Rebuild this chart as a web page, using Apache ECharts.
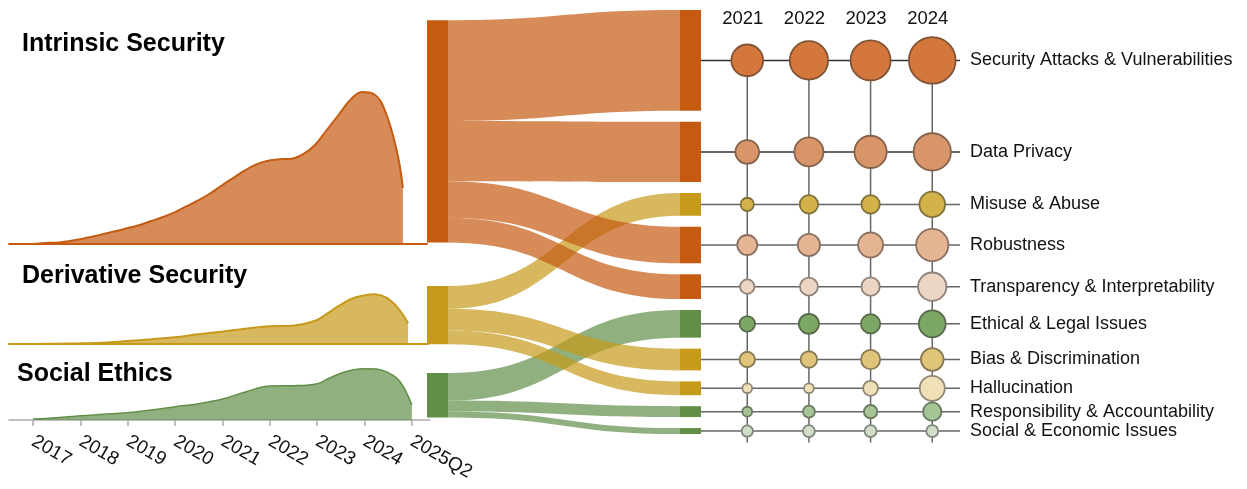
<!DOCTYPE html>
<html>
<head>
<meta charset="utf-8">
<script src="https://cdn.jsdelivr.net/npm/echarts@6/dist/echarts.min.js"></script>
<style>
  html, body { margin: 0; padding: 0; background: #fff; }
  #main { width: 1247px; height: 489px; }
</style>
</head>
<body>
<div id="main"></div>
<script>
// 三个大类
const groupNames = ['Intrinsic Security', 'Derivative Security', 'Social Ethics'];
const groupColors = ['#C55A11', '#C69A1A', '#628F48'];

// 左侧密度曲线（按年份读取）
const intrinsicYears = [2017, 2017.25, 2017.5, 2017.75, 2018, 2018.25, 2018.5, 2018.75, 2019, 2019.25, 2019.5, 2019.75,
    2020, 2020.25, 2020.5, 2020.75, 2021, 2021.25, 2021.5, 2021.75, 2022, 2022.25, 2022.5, 2022.75,
    2023, 2023.25, 2023.5, 2023.75, 2024, 2024.25, 2024.5, 2024.75, 2024.87];
const intrinsicDensity = [0, 1, 1.3, 2.7, 4.7, 7.3, 10, 12.7, 15.7, 18.7, 22.7, 26.7,
    31.3, 37.3, 43.3, 50, 58, 65.7, 73.3, 79.7, 83.3, 84.7, 85.3, 90,
    99, 114, 129, 144, 152, 150, 132, 91, 56];

const derivativeYears = [2017, 2017.5, 2018, 2018.5, 2019, 2019.5, 2020, 2020.5, 2021, 2021.5, 2022, 2022.5,
    2023, 2023.25, 2023.5, 2023.75, 2024, 2024.25, 2024.5, 2024.75, 2024.96];
const derivativeDensity = [0, 0.3, 0.7, 1.3, 3, 4.7, 6.7, 9.7, 12.3, 15.3, 17.7, 18.3,
    23.5, 30.7, 38.3, 45, 48.3, 49.7, 46.3, 35.7, 20.7];

const socialYears = [2017, 2017.5, 2018, 2018.5, 2019, 2019.5, 2020, 2020.5, 2021, 2021.5, 2022, 2022.5,
    2023, 2023.25, 2023.5, 2023.75, 2024, 2024.25, 2024.5, 2024.75, 2025];
const socialDensity = [1, 2.3, 4.3, 5.7, 7.3, 10, 13.3, 16.3, 21, 28.3, 34, 34.3,
    36.3, 41.7, 46.7, 50, 51.3, 51, 47.3, 38.3, 15];

// 横轴刻度
const axisYears = [2017, 2018, 2019, 2020, 2021, 2022, 2023, 2024, 2025];
const axisLabels = ['2017', '2018', '2019', '2020', '2021', '2022', '2023', '2024', '2025Q2'];

// 子类（桑基图右侧，从上到下）
const topicNames = ['Security Attacks & Vulnerabilities', 'Data Privacy', 'Misuse & Abuse', 'Robustness',
    'Transparency & Interpretability', 'Ethical & Legal Issues', 'Bias & Discrimination', 'Hallucination',
    'Responsibility & Accountability', 'Social & Economic Issues'];
const topicGroup = [0, 0, 1, 0, 0, 2, 1, 1, 2, 2];
const topicCounts = [102, 61, 23, 37, 25, 28, 22, 14, 11, 6];
const topicColors = ['#D4773C', '#D9956A', '#D4B24A', '#E5B493', '#EDD5C3',
    '#7DA765', '#E0C479', '#EFE0B8', '#A6C496', '#D0DDC8'];

// 气泡图：每个子类 2021-2024
const bubbleYears = [2021, 2022, 2023, 2024];
const bubbleCounts = [
    [63, 92, 100, 136],
    [35, 53, 65, 87],
    [11, 21, 21, 41],
    [25, 31, 39, 65],
    [13, 20, 21, 50],
    [15, 25, 23, 45],
    [15, 17, 23, 32],
    [6, 6, 14, 39],
    [6, 9, 11, 21],
    [8, 9, 9, 9]
];

const FONT = '"Liberation Sans", Arial, Helvetica, sans-serif';

// 颜色加深（用于气泡描边）
function darken(hex, t) {
    const n = parseInt(hex.slice(1), 16);
    const r = (n >> 16) & 255, g = (n >> 8) & 255, b = n & 255;
    const m = c => Math.round(c * (1 - t) + 46 * t);
    return `rgb(${m(r)},${m(g)},${m(b)})`;
}

// 桑基图布局参数
const sankeyTop = 10;
const sankeyHeight = 424;
const nodeGap = 11;
const sourceLocalY = [0.024, 0.651, 0.856];

// 计算右侧节点中心，作为气泡行位置
const total = topicCounts.reduce((a, b) => a + b, 0);
const ky = (sankeyHeight - (topicCounts.length - 1) * nodeGap) / total;
const gapValue = nodeGap / ky;
const yMax = sankeyHeight / ky;
const rowCenters = [];
let acc = 0;
topicCounts.forEach((v, i) => {
    rowCenters.push(acc + v / 2);
    acc += v + gapValue;
});

const bubbleXMin = 2020.25;
const bubbleXMax = 2024.45;

const ridgeXMin = 2016.489;
const ridgeXMax = 2025.383;

function pairs(xs, ys) {
    return xs.map((x, i) => [x, ys[i]]);
}

const chart = echarts.init(document.getElementById('main'));

const ridgeData = [
    pairs(intrinsicYears, intrinsicDensity),
    pairs(derivativeYears, derivativeDensity),
    pairs(socialYears, socialDensity)
];
const ridgeGrids = [
    { left: 9, width: 418, top: 84, height: 160, max: 160 },
    { left: 9, width: 419, top: 284, height: 60, max: 60 },
    { left: 9, width: 421, top: 360, height: 60, max: 60 }
];

const grids = ridgeGrids.map(g => ({ left: g.left, width: g.width, top: g.top, height: g.height }));
grids.push({ left: 701, width: 259, top: sankeyTop, height: sankeyHeight });

const xAxes = ridgeGrids.map((g, i) => ({
    type: 'value',
    gridIndex: i,
    min: ridgeXMin,
    max: ridgeXMax,
    axisLine: { lineStyle: { color: i === 2 ? '#aaa' : groupColors[i], width: i === 2 ? 1.5 : 2 } },
    axisTick: i === 2
        ? { show: true, customValues: axisYears, length: 6, lineStyle: { color: '#aaa', width: 1.5 } }
        : { show: false },
    axisLabel: i === 2 ? {
        show: true,
        customValues: axisYears,
        formatter: v => axisLabels[axisYears.indexOf(v)],
        rotate: -30,
        margin: 20,
        fontSize: 19,
        color: '#111',
        fontFamily: FONT
    } : { show: false },
    splitLine: { show: false }
}));
xAxes.push({
    type: 'value',
    gridIndex: 3,
    position: 'top',
    min: bubbleXMin,
    max: bubbleXMax,
    axisLine: { show: false },
    axisTick: { show: false },
    splitLine: { show: false },
    axisLabel: {
        inside: true,
        customValues: bubbleYears,
        formatter: v => String(v),
        margin: -1,
        padding: [0, 9, 0, 0],
        fontSize: 18.5,
        color: '#111',
        fontFamily: FONT
    }
});

const yAxes = ridgeGrids.map((g, i) => ({
    type: 'value', gridIndex: i, min: 0, max: g.max, show: false
}));
yAxes.push({
    type: 'value',
    gridIndex: 3,
    position: 'right',
    inverse: true,
    min: 0,
    max: yMax,
    axisLine: { show: false },
    axisTick: { show: false },
    splitLine: { show: false },
    axisLabel: {
        customValues: rowCenters,
        formatter: v => {
            let best = 0;
            rowCenters.forEach((c, i) => { if (Math.abs(c - v) < Math.abs(rowCenters[best] - v)) best = i; });
            return topicNames[best];
        },
        margin: 10,
        fontSize: 18,
        color: '#111',
        fontFamily: FONT
    }
});

const series = [];

// 密度面积
ridgeData.forEach((d, i) => {
    series.push({
        type: 'line',
        xAxisIndex: i,
        yAxisIndex: i,
        data: d,
        smooth: 0.4,
        symbol: 'none',
        silent: true,
        lineStyle: { color: groupColors[i], width: i === 2 ? 1.5 : 2 },
        areaStyle: { color: groupColors[i], opacity: 0.7 }
    });
});

// 桑基图
const nodes = groupNames.map((name, i) => ({
    name: name,
    localY: sourceLocalY[i],
    itemStyle: { color: groupColors[i] }
})).concat(topicNames.map((name, i) => ({
    name: name,
    itemStyle: { color: groupColors[topicGroup[i]] }
})));
const links = topicNames.map((name, i) => ({
    source: groupNames[topicGroup[i]],
    target: name,
    value: topicCounts[i]
}));
series.push({
    type: 'sankey',
    left: 427,
    top: sankeyTop,
    width: 274,
    height: sankeyHeight,
    nodeWidth: 21,
    nodeGap: nodeGap,
    layoutIterations: 0,
    draggable: false,
    silent: true,
    emphasis: { disabled: true },
    label: { show: false },
    itemStyle: { borderWidth: 0 },
    lineStyle: { color: 'source', opacity: 0.7, curveness: 0.5 },
    data: nodes,
    links: links
});

// 气泡网格线
rowCenters.forEach((c, i) => {
    series.push({
        type: 'line', xAxisIndex: 3, yAxisIndex: 3, silent: true, symbol: 'none', z: 1,
        lineStyle: { color: i < 2 ? '#333' : '#666', width: 1.5 },
        data: [[bubbleXMin, c], [bubbleXMax, c]]
    });
});
bubbleYears.forEach(y => {
    series.push({
        type: 'line', xAxisIndex: 3, yAxisIndex: 3, silent: true, symbol: 'none', z: 1, clip: false,
        lineStyle: { color: '#666', width: 1.5 },
        data: [[y, rowCenters[0]], [y, yMax * 1.02]]
    });
});

// 气泡
const bubbleData = [];
bubbleCounts.forEach((row, r) => {
    row.forEach((v, c) => {
        bubbleData.push({
            value: [bubbleYears[c], rowCenters[r], v],
            itemStyle: { color: topicColors[r], borderColor: darken(topicColors[r], 0.5) }
        });
    });
});
series.push({
    type: 'scatter',
    xAxisIndex: 3,
    yAxisIndex: 3,
    z: 5,
    silent: true,
    symbolSize: val => Math.sqrt(val[2]) * 4,
    itemStyle: { borderWidth: 1.8, opacity: 1 },
    data: bubbleData
});

const titleTops = [32, 264, 362];
const titleLefts = [22, 22, 17];

chart.setOption({
    backgroundColor: '#fff',
    animation: false,
    title: groupNames.map((t, i) => ({
        text: t,
        left: titleLefts[i],
        top: titleTops[i],
        padding: 0,
        textStyle: { fontSize: 25, fontWeight: 'bold', color: '#000', fontFamily: FONT }
    })),
    grid: grids,
    xAxis: xAxes,
    yAxis: yAxes,
    series: series
});
</script>
</body>
</html>
